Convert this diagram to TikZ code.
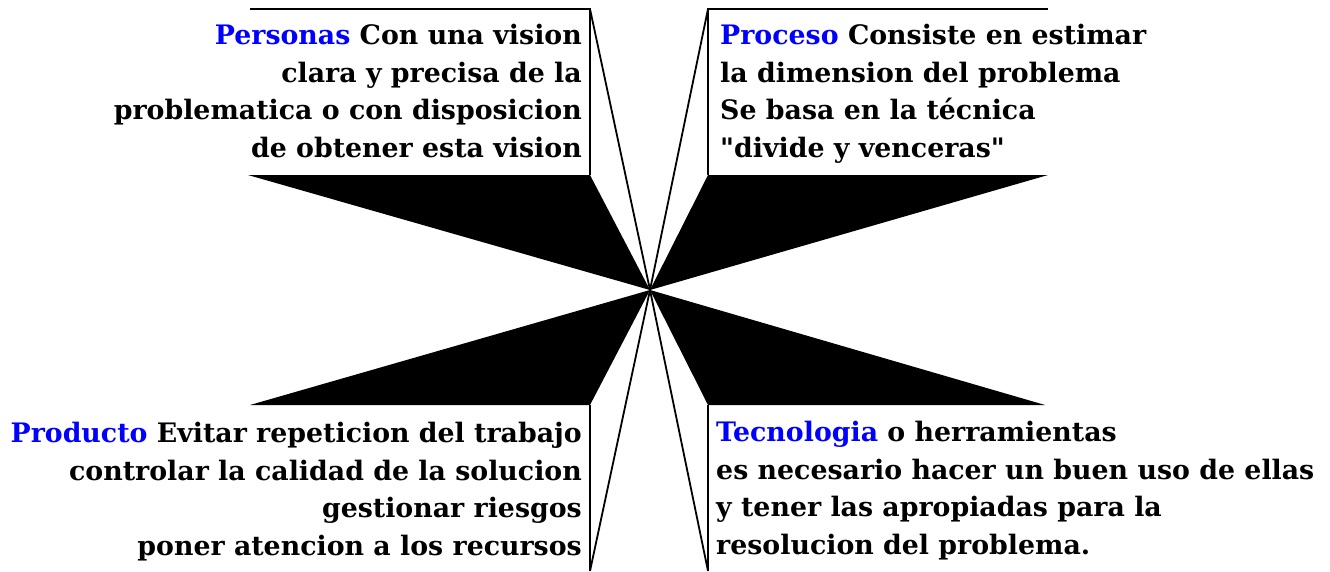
\documentclass[tikz,border=0pt]{standalone}
\usepackage{fontspec}
\setmainfont{DejaVu Serif}
\begin{document}
\begin{tikzpicture}[x=1pt,y=-1pt,
  wedge/.style={fill=black,draw=none},
  frame/.style={draw=black,line width=1.8pt},
  ray/.style={draw=black,line width=1.8pt},
  txt/.style={inner sep=0pt,font=\bfseries\fontsize{26.8}{37.5}\selectfont}]
\useasboundingbox (0,0) rectangle (1330,571);
\fill[white] (0,0) rectangle (1330,571);
\coordinate (c) at (650,290);
% wedges
\fill[wedge] (248,175) -- (590,175) -- (c) -- cycle;
\fill[wedge] (708,175) -- (1048,175) -- (c) -- cycle;
\fill[wedge] (250,405) -- (590,405) -- (c) -- cycle;
\fill[wedge] (708,405) -- (1045,405) -- (c) -- cycle;
% frames
\coordinate (tl) at (590,9);
\coordinate (tr) at (708,9);
\coordinate (bl) at (590,571);
\coordinate (br) at (708,571);
\draw[frame] (250,9) -- (tl) -- (590,175);
\draw[frame] (1048,9) -- (tr) -- (708,175);
\draw[frame] (590,405) -- (bl);
\draw[frame] (708,405) -- (br);
% rays
\draw[ray] (tl) -- (c) -- (bl);
\draw[ray] (tr) -- (c) -- (br);
% texts
\node[txt,anchor=north east,align=right] (personas) at (582,24)
 {{\color{blue}Personas} Con una vision\\clara y precisa de la\\problematica o con disposicion\\de obtener esta vision};
\node[txt,anchor=north west,align=left] (proceso) at (720,24)
 {{\color{blue}Proceso} Consiste en estimar\\la dimension del problema\\Se basa en la técnica\\\textquotedbl divide y venceras\textquotedbl};
\node[txt,anchor=north east,align=right] (producto) at (582,422)
 {{\color{blue}Producto} Evitar repeticion del trabajo\\controlar la calidad de la solucion\\gestionar riesgos\\poner atencion a los recursos};
\node[txt,anchor=north west,align=left] (tecnologia) at (716,421)
 {{\color{blue}Tecnologia} o herramientas\\es necesario hacer un buen uso de ellas\\y tener las apropiadas para la\\resolucion del problema.};
\end{tikzpicture}
\end{document}
